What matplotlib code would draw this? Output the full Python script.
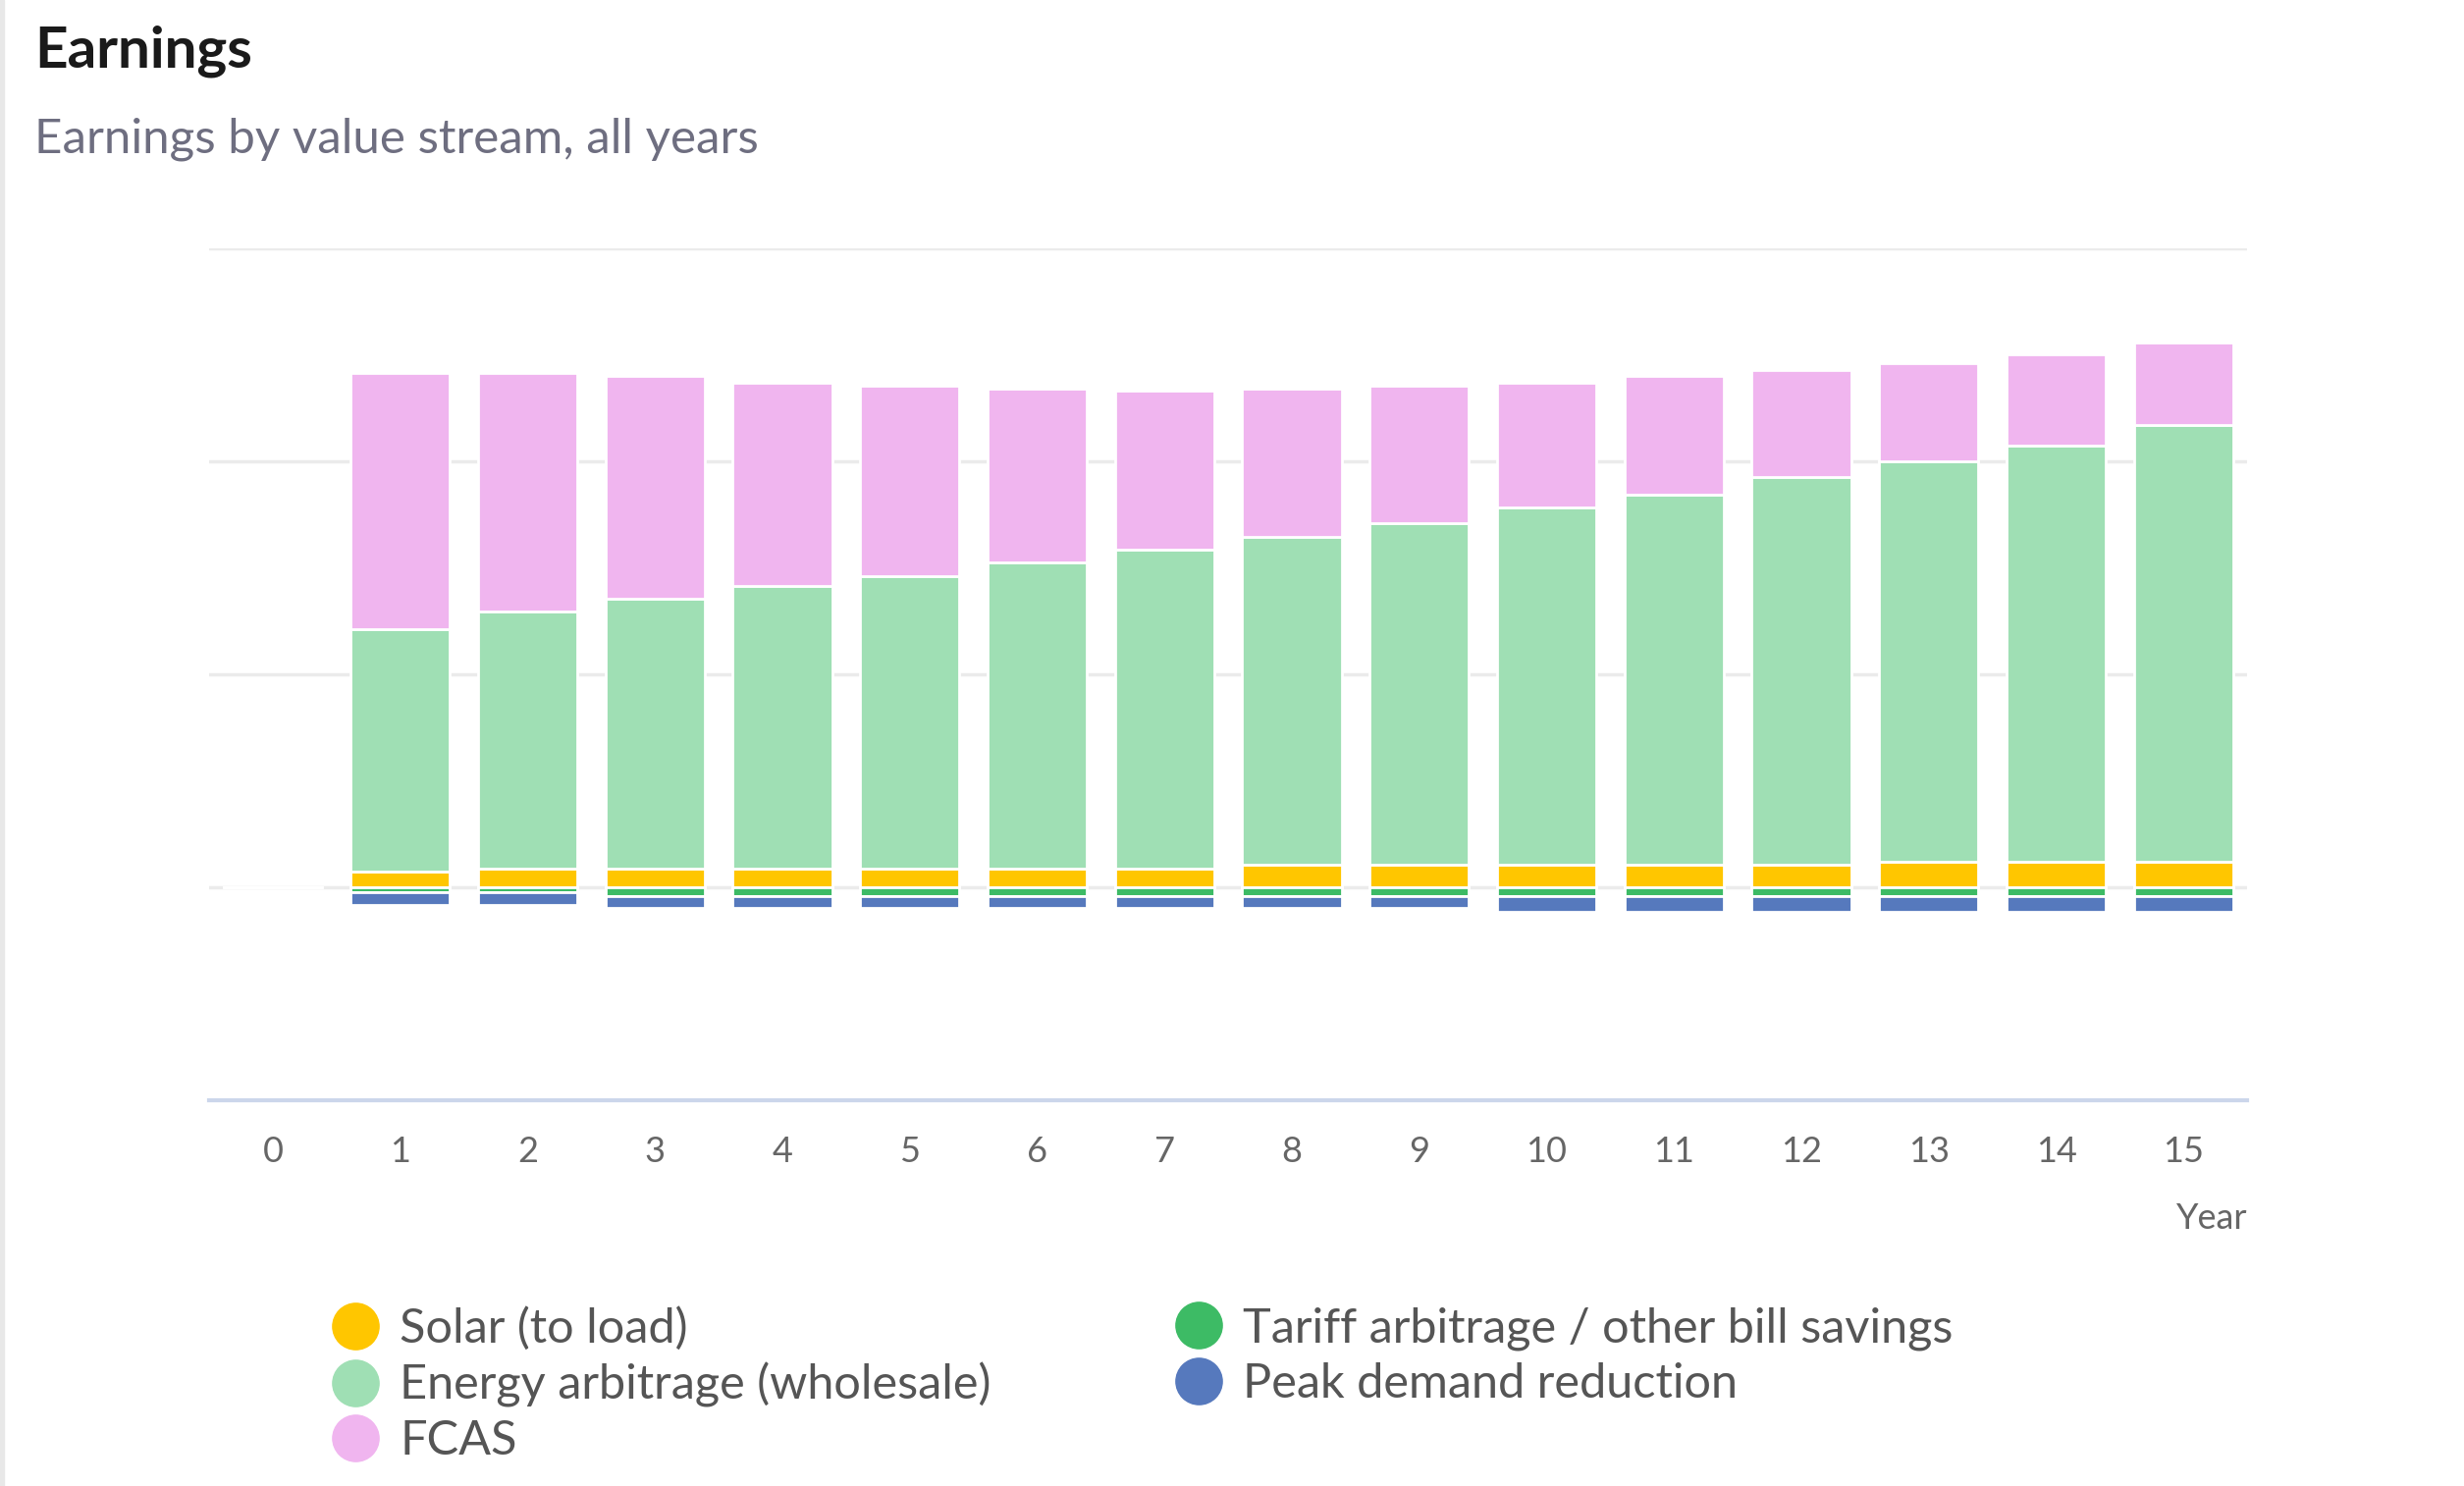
import numpy as np
import matplotlib.pyplot as plt
from matplotlib.lines import Line2D
from matplotlib.patches import Rectangle

plt.rcParams['font.family'] = ['Lato', 'DejaVu Sans']

years = list(range(0, 16))
year_labels = [str(y) for y in years]

# earnings per value stream (arbitrary units, gridline step = 100)
solar = [0, 7.4, 8.9, 8.9, 8.9, 8.9, 8.9, 8.9, 10.4, 10.4, 10.4, 10.4, 10.4, 11.9, 11.9, 11.9]
energy = [0, 114, 120.7, 126.7, 132.6, 137, 143.7, 149.6, 154, 160.7, 168.1, 174, 182.2, 188.1, 195.5, 205.1]
fcas = [0, 120, 111.9, 104.4, 95.5, 89.7, 81.5, 74.8, 69.7, 64.5, 58.5, 55.6, 50.4, 45.9, 43, 38.6]
tariff = [0, -2.5, -2.5, -4, -4, -4, -4, -4, -4, -4, -4, -4, -4, -4, -4, -4]
peak = [0, -6, -6, -5.5, -5.5, -5.5, -5.5, -5.5, -5.5, -5.5, -7.5, -7.5, -7.5, -7.5, -7.5, -7.5]

names = ["Solar (to load)", "Energy arbitrage (wholesale)", "FCAS",
         "Tariff arbitrage / other bill savings", "Peak demand reduction"]
colors = ["#ffc600", "#9fdfb4", "#f0b5ef", "#3dbb65", "#5679bd"]

fig = plt.figure(figsize=(25.10, 15.14), dpi=100)
fig.patches.append(Rectangle((0, 0), 4 / 2510, 1, transform=fig.transFigure,
                             color="#e8e8e8", zorder=0))

ax = fig.add_axes([0.0849, 0.2596, 0.8271, 0.5733])

x = np.array(years)
w = 0.78
ax.bar(x, solar, w, color=colors[0], edgecolor="white", linewidth=2, zorder=3)
ax.bar(x, energy, w, bottom=solar, color=colors[1], edgecolor="white", linewidth=2, zorder=3)
ax.bar(x, fcas, w, bottom=np.add(solar, energy), color=colors[2], edgecolor="white",
       linewidth=2, zorder=3)
ax.bar(x, tariff, w, color=colors[3], edgecolor="white", linewidth=2, zorder=3)
ax.bar(x, peak, w, bottom=tariff, color=colors[4], edgecolor="white", linewidth=2, zorder=3)

ax.set_xlim(-0.5, 15.5)
ax.set_ylim(-100, 300)
ax.set_yticks([0, 100, 200, 300])
ax.set_yticklabels([])
ax.tick_params(axis='y', length=0)
ax.grid(axis='y', color="#ebebeb", linewidth=2.5, zorder=0)
ax.set_xticks(x)
ax.set_xticklabels(year_labels)
ax.tick_params(axis='x', length=0, pad=26, labelsize=26, labelcolor="#666666")
for s in ["top", "left", "right"]:
    ax.spines[s].set_visible(False)
ax.spines["bottom"].set_color("#ccd6eb")
ax.spines["bottom"].set_linewidth(3)

fig.text(2289 / 2510, 1 - 1242 / 1514, "Year", ha="right", va="center",
         fontsize=26, color="#666666")

fig.text(35 / 2510, 1 - 52 / 1514, "Earnings", ha="left", va="center",
         fontsize=42, fontweight="bold", color="#1a1a1a")
fig.text(35 / 2510, 1 - 142 / 1514, "Earnings by value stream, all years", ha="left",
         va="center", fontsize=35.5, color="#6e6e80")

handles = [Line2D([], [], marker='o', linestyle='', markersize=34, color=c) for c in colors]
leg_kw = dict(frameon=False, fontsize=35, labelcolor="#555555", handlelength=1.0,
              handletextpad=0.42, labelspacing=0.25, borderpad=0, borderaxespad=0,
              loc="upper left")
fig.legend(handles[:3], names[:3], bbox_to_anchor=(338 / 2510, 1 - 1331 / 1514), **leg_kw)
fig.legend(handles[3:], names[3:], bbox_to_anchor=(1197 / 2510, 1 - 1331 / 1514), **leg_kw)

plt.savefig("out.png", dpi=100)
